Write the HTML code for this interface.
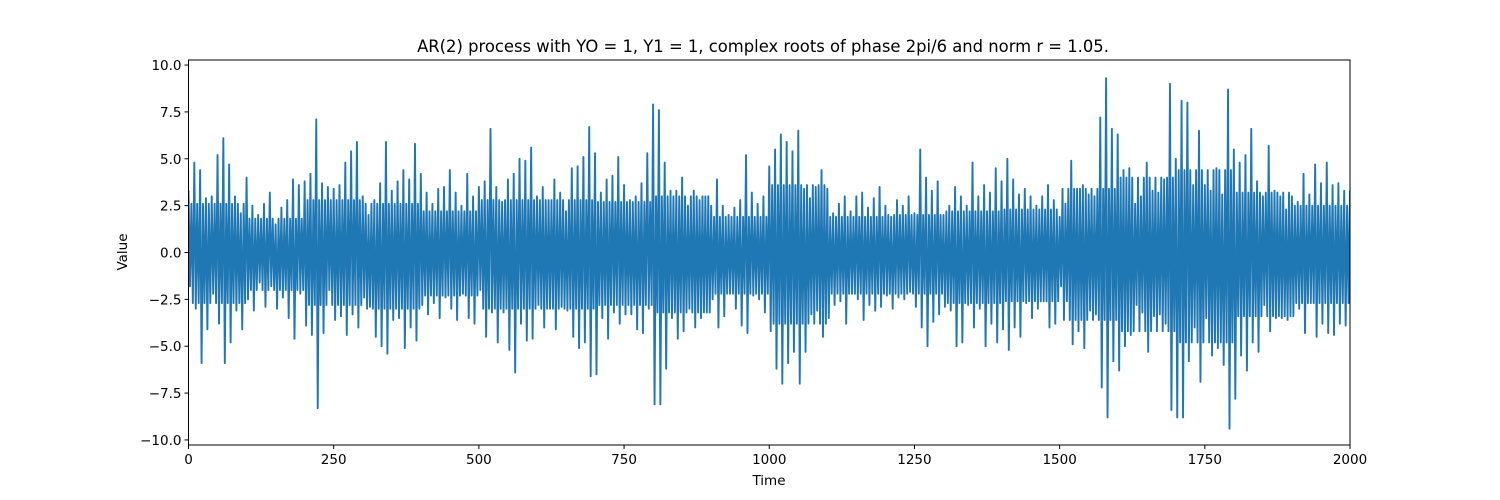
<!DOCTYPE html>
<html><head><meta charset="utf-8"><style>
html,body{margin:0;padding:0;background:#fff;}
svg{display:block;font-family:"DejaVu Sans","Liberation Sans",sans-serif;}
</style></head><body>
<svg id="chart" width="1500" height="500">
<rect width="1500" height="500" fill="#fff"/>
<text x="763" y="52" font-size="16.4" text-anchor="middle" fill="#000">AR(2) process with YO = 1, Y1 = 1, complex roots of phase 2pi/6 and norm r = 1.05.</text>
<g id="plot"></g>
<g id="axes"></g>
<text x="769" y="485" font-size="13.5" text-anchor="middle">Time</text>
<text x="127" y="252" font-size="13.5" text-anchor="middle" transform="rotate(-90 127 252)">Value</text>
</svg>
<script>
const highs=[3.3,4.8,4.4,2.9,3.0,5.2,6.1,4.7,3.0,2.1,
4.0,2.5,2.0,2.6,3.2,1.5,2.4,2.8,3.9,3.6,
3.8,4.2,7.1,3.7,3.5,3.4,3.6,4.8,5.4,5.9,
3.0,2.0,2.8,3.7,5.9,3.3,3.8,4.4,3.9,5.8,
4.2,3.2,2.6,3.4,3.5,4.4,3.2,2.5,4.2,3.0,
3.5,3.8,6.6,3.5,2.7,3.9,4.2,5.0,4.9,5.6,
3.0,3.5,2.8,3.9,3.2,2.2,4.5,4.6,5.1,6.7,
5.3,3.2,3.9,4.1,5.1,3.6,2.8,3.0,3.7,5.3,
7.9,7.6,4.8,3.3,3.3,4.0,2.5,3.3,2.8,3.0,
2.5,3.9,2.5,2.0,2.4,2.8,5.2,3.2,2.6,3.0,
4.6,5.5,6.3,5.9,5.4,6.5,3.4,2.9,3.5,4.4,
3.4,2.1,2.6,3.0,2.2,3.0,3.2,2.4,2.9,3.5,
2.5,1.9,2.8,2.5,3.0,2.1,5.5,4.0,3.3,3.8,
2.0,2.5,3.5,3.0,2.5,4.8,3.0,3.6,3.2,4.5,
3.8,5.0,3.9,3.1,3.4,3.0,2.5,3.0,3.6,2.8,
1.9,2.6,4.9,3.4,3.6,3.1,3.0,7.2,9.3,6.6,
6.3,4.4,4.5,2.6,3.0,4.8,3.3,3.2,3.9,9.0,
5.0,8.1,8.0,3.6,6.5,3.6,3.3,4.5,3.1,8.7,
5.5,4.8,5.2,6.6,3.8,3.0,5.7,3.3,3.0,2.3,
3.0,2.7,4.2,3.1,4.7,3.7,4.8,3.6,3.7,3.3];
const lows=[-1.8,-3.0,-5.9,-4.1,-2.2,-3.8,-5.9,-4.8,-3.1,-4.1,
-2.5,-3.1,-1.6,-2.9,-1.8,-3.0,-2.4,-3.5,-4.6,-2.2,
-3.9,-4.4,-8.3,-4.3,-2.0,-3.6,-3.4,-4.4,-3.3,-4.0,
-2.4,-2.9,-4.5,-5.0,-5.4,-3.6,-3.5,-5.1,-4.0,-4.7,
-2.8,-3.3,-2.7,-3.5,-2.4,-3.0,-3.6,-2.2,-3.5,-3.8,
-2.0,-4.5,-3.2,-4.8,-3.2,-5.2,-6.4,-3.8,-4.7,-4.6,
-2.8,-4.0,-3.0,-4.1,-2.9,-3.1,-4.5,-5.1,-4.8,-6.6,
-6.5,-3.5,-4.6,-3.2,-3.8,-3.3,-3.3,-4.1,-4.3,-3.0,
-8.1,-8.1,-6.2,-3.5,-4.6,-4.2,-3.0,-4.0,-3.5,-3.2,
-2.5,-4.0,-3.4,-2.2,-3.0,-3.9,-4.3,-2.3,-2.5,-3.2,
-4.2,-6.2,-7.0,-5.9,-5.3,-7.0,-5.3,-3.3,-3.1,-4.5,
-3.5,-2.8,-2.6,-3.8,-2.2,-2.5,-3.6,-2.8,-3.1,-2.9,
-2.3,-3.0,-2.4,-2.5,-2.1,-2.9,-4.0,-5.0,-3.7,-3.3,
-2.9,-3.1,-5.0,-4.8,-2.8,-4.0,-3.0,-5.0,-3.8,-4.8,
-4.1,-5.2,-4.0,-4.5,-2.7,-3.5,-3.0,-2.6,-4.0,-3.8,
-1.8,-2.6,-4.9,-4.2,-5.1,-3.1,-3.3,-7.2,-8.8,-5.8,
-6.3,-5.0,-4.4,-2.8,-3.2,-5.3,-3.4,-3.3,-3.8,-8.4,
-8.8,-8.8,-5.8,-4.0,-6.9,-3.5,-5.5,-5.1,-6.0,-9.4,
-7.8,-5.5,-6.3,-4.8,-5.3,-2.8,-4.2,-3.5,-3.5,-3.6,
-3.4,-3.0,-4.3,-2.7,-4.5,-3.8,-4.3,-4.4,-3.8,-3.9];
// typical inner-swing amplitude per 100-step block (upper / lower)
const innerHigh=[2.6,1.8,2.8,2.6,2.2,2.8,2.8,2.7,3.0,1.9,3.6,1.9,2.0,2.2,2.3,3.4,4.0,4.4,3.2,2.5];
const innerLow=[-2.7,-2.0,-2.8,-3.0,-2.3,-3.0,-3.0,-2.8,-3.2,-2.2,-3.8,-2.2,-2.2,-2.7,-2.6,-3.6,-4.2,-4.8,-3.4,-2.7];
const xTicks=[0,250,500,750,1000,1250,1500,1750,2000];
const yTicks=[-10,-7.5,-5,-2.5,0,2.5,5,7.5,10];
const yTickLabels=["\u221210.0","\u22127.5","\u22125.0","\u22122.5","0.0","2.5","5.0","7.5","10.0"];
const segLen=10;

const L=188.5,R=1350,T=60,B=445;
const xMin=0,xMax=2000,yMin=-10.27,yMax=10.27;
const sx=v=>L+(v-xMin)/(xMax-xMin)*(R-L);
const sy=v=>B-(v-yMin)/(yMax-yMin)*(B-T);
const NS="http://www.w3.org/2000/svg";
const plot=document.getElementById('plot'),axes=document.getElementById('axes');

let pts=[];
for(let i=0;i<highs.length;i++){
  const t=i*segLen;
  const blk=Math.floor(t/100);
  pts.push(sx(t)+","+sy(highs[i]));
  pts.push(sx(t+segLen*0.25)+","+sy(lows[i]));
  pts.push(sx(t+segLen*0.5)+","+sy(innerHigh[blk]));
  pts.push(sx(t+segLen*0.75)+","+sy(innerLow[blk]));
}
pts.push(sx(xMax)+","+sy(highs[highs.length-1]));
const cp=document.createElementNS(NS,'clipPath');cp.id='clip';
const cr=document.createElementNS(NS,'rect');
cr.setAttribute('x',L);cr.setAttribute('y',T);cr.setAttribute('width',R-L);cr.setAttribute('height',B-T);
cp.appendChild(cr);plot.appendChild(cp);
const line=document.createElementNS(NS,'polyline');


line.setAttribute('points',pts.join(' '));
line.setAttribute('fill','none');line.setAttribute('stroke','#1f77b4');
line.setAttribute('stroke-width','1.9');line.setAttribute('stroke-linejoin','round');
line.setAttribute('clip-path','url(#clip)');
plot.appendChild(line);

const frame=document.createElementNS(NS,'rect');


frame.setAttribute('x',L);frame.setAttribute('y',T);frame.setAttribute('width',R-L);frame.setAttribute('height',B-T);
frame.setAttribute('fill','none');frame.setAttribute('stroke','#000');frame.setAttribute('stroke-width','1');
axes.appendChild(frame);

xTicks.forEach(v=>{
  const x=sx(v);
  const tk=document.createElementNS(NS,'line');
  
  
  tk.setAttribute('x1',x);tk.setAttribute('x2',x);tk.setAttribute('y1',B);tk.setAttribute('y2',B+4);
  tk.setAttribute('stroke','#000');axes.appendChild(tk);
  const tx=document.createElementNS(NS,'text');
  
  
  tx.setAttribute('x',x);tx.setAttribute('y',B+19);tx.setAttribute('font-size','13.5');
  tx.setAttribute('text-anchor','middle');tx.textContent=String(v);axes.appendChild(tx);
});
yTicks.forEach((v,i)=>{
  const y=sy(v);
  const tk=document.createElementNS(NS,'line');
  
  
  tk.setAttribute('x1',L-4);tk.setAttribute('x2',L);tk.setAttribute('y1',y);tk.setAttribute('y2',y);
  tk.setAttribute('stroke','#000');axes.appendChild(tk);
  const tx=document.createElementNS(NS,'text');
  
  
  tx.setAttribute('x',L-7);tx.setAttribute('y',y+5);tx.setAttribute('font-size','13.5');
  tx.setAttribute('text-anchor','end');tx.textContent=yTickLabels[i];axes.appendChild(tx);
});
</script>
</body></html>
